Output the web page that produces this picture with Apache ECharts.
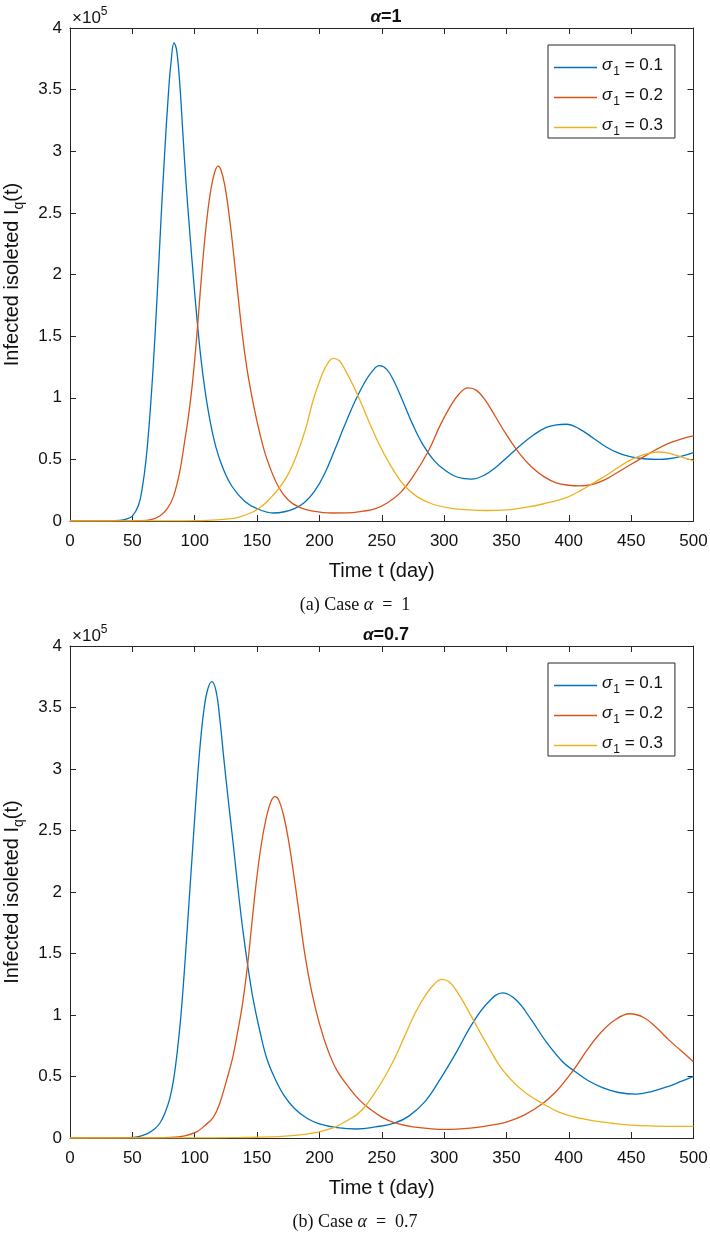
<!DOCTYPE html>
<html><head><meta charset="utf-8">
<script src="https://cdn.jsdelivr.net/npm/echarts@6/dist/echarts.min.js"></script>
<style>html,body{margin:0;padding:0;background:#fff}#c{width:710px;height:1233px}</style>
</head><body><div id="c"></div>
<script>
// ---------- DATA (values in units of 1e5) ----------
const xTickLabels = [0,50,100,150,200,250,300,350,400,450,500];
const yTickLabels = [0,0.5,1,1.5,2,2.5,3,3.5,4];
const seriesNames = ['σ1 = 0.1','σ1 = 0.2','σ1 = 0.3'];
const seriesColors = ['#0072BD','#D95319','#EDB120'];

// Panel (a): alpha = 1
const a_s01 = [[0,0],[20,0.0005],[30,0.001],[40,0.005],[45,0.015],[50,0.04],[55,0.13],[58,0.27],[61,0.5],[64,0.85],[67,1.3],[70,1.85],[73,2.45],[76,3.0],[79,3.48],[81,3.72],[83.4,3.88],[85.5,3.82],[88,3.55],[90.5,3.15],[93,2.75],[96,2.35],[99,1.97],[102,1.62],[105,1.32],[108,1.08],[112,0.83],[117,0.6],[123,0.42],[130,0.28],[140,0.16],[150,0.1],[163,0.065],[172,0.075],[180,0.1],[188,0.15],[196,0.24],[204,0.38],[212,0.57],[220,0.77],[228,0.96],[236,1.12],[242,1.21],[248,1.26],[254,1.23],[260,1.13],[267,0.97],[275,0.78],[283,0.62],[292,0.49],[301,0.41],[311,0.355],[322,0.34],[332,0.37],[342,0.44],[352,0.53],[362,0.62],[372,0.7],[382,0.76],[390,0.78],[398,0.785],[408,0.75],[420,0.67],[430,0.6],[440,0.55],[450,0.52],[460,0.505],[472,0.5],[480,0.505],[490,0.525],[500,0.555]];
const a_s02 = [[0,0],[40,0.0005],[55,0.003],[65,0.012],[72,0.04],[78,0.1],[83,0.2],[88,0.4],[92,0.65],[95,0.85],[98,1.1],[101,1.42],[104,1.8],[107,2.17],[110,2.47],[113,2.69],[116,2.83],[118.7,2.88],[121,2.85],[124,2.73],[127,2.53],[130,2.28],[134,1.9],[138,1.53],[142,1.23],[147,0.95],[152,0.72],[158,0.5],[167,0.28],[175,0.17],[184,0.11],[195,0.08],[210,0.065],[222,0.066],[235,0.08],[245,0.1],[255,0.15],[265,0.23],[275,0.36],[287,0.56],[297,0.78],[305,0.93],[312,1.03],[319,1.08],[326,1.06],[333,0.98],[341,0.85],[350,0.7],[361,0.54],[370,0.44],[380,0.36],[390,0.31],[400,0.29],[409,0.285],[420,0.3],[430,0.34],[440,0.4],[450,0.46],[460,0.52],[470,0.58],[480,0.63],[490,0.665],[500,0.69]];
const a_s03 = [[0,0],[80,0.001],[110,0.005],[125,0.015],[135,0.03],[147,0.075],[155,0.13],[162,0.2],[168,0.27],[175,0.38],[182,0.54],[189,0.75],[195,0.98],[200,1.13],[205,1.25],[211,1.32],[216,1.3],[222,1.2],[228,1.08],[232.5,0.98],[240,0.8],[248,0.62],[256,0.47],[267,0.3],[278,0.2],[290,0.14],[305,0.105],[320,0.09],[334,0.085],[350,0.09],[365,0.11],[380,0.14],[398,0.19],[410,0.25],[420,0.31],[433,0.39],[445,0.47],[455,0.52],[465,0.55],[472,0.56],[480,0.55],[490,0.52],[500,0.49]];

// Panel (b): alpha = 0.7
const b_s01 = [[0,0],[30,0.0005],[45,0.003],[55,0.012],[62,0.035],[68,0.075],[72,0.12],[76,0.2],[80,0.32],[83,0.47],[86,0.7],[89,1.0],[92,1.4],[95,1.85],[98,2.3],[101,2.75],[104,3.15],[107,3.45],[110,3.63],[113.6,3.71],[117,3.64],[120,3.42],[123.5,3.07],[127,2.74],[131,2.38],[135,2.0],[139,1.66],[143,1.37],[147,1.12],[152,0.88],[158,0.64],[165,0.47],[172,0.34],[180,0.24],[190,0.16],[200,0.115],[214,0.085],[230,0.073],[245,0.09],[260,0.12],[272,0.18],[285,0.3],[297,0.48],[310,0.7],[322,0.92],[335,1.1],[347,1.18],[358,1.12],[370,0.96],[382,0.78],[395,0.62],[405,0.54],[415,0.47],[427,0.41],[440,0.37],[454,0.357],[467,0.38],[480,0.42],[490,0.46],[500,0.5]];
const b_s02 = [[0,0],[60,0.001],[80,0.005],[92,0.018],[101.5,0.05],[108,0.1],[115,0.17],[120,0.28],[125.6,0.47],[130.6,0.66],[134.4,0.86],[138.2,1.08],[142,1.37],[145.8,1.74],[149.5,2.09],[153.3,2.38],[157.1,2.59],[160.9,2.73],[164.4,2.775],[167.3,2.75],[171.1,2.63],[174.9,2.44],[178.6,2.2],[183.7,1.83],[188.7,1.47],[193.8,1.19],[200,0.93],[207,0.71],[214,0.55],[223,0.42],[232,0.31],[240,0.24],[250,0.17],[260,0.125],[275,0.09],[290,0.075],[301,0.07],[321,0.08],[335,0.1],[350,0.13],[365,0.19],[379,0.28],[390,0.38],[397.5,0.47],[405,0.57],[415,0.72],[425,0.85],[437,0.96],[449,1.01],[460,0.98],[470,0.9],[480,0.8],[490,0.71],[500,0.62]];
const b_s03 = [[0,0],[100,0.001],[130,0.003],[150,0.006],[170,0.013],[185,0.025],[198,0.045],[207,0.07],[214,0.095],[222,0.14],[230,0.19],[237,0.26],[244,0.36],[252,0.49],[260,0.64],[268,0.82],[277,1.02],[285,1.16],[292,1.25],[298,1.29],[304,1.27],[311,1.18],[318,1.06],[325,0.93],[335,0.75],[345,0.58],[355,0.46],[365,0.37],[379,0.28],[392,0.21],[405,0.17],[420,0.14],[435,0.12],[450,0.105],[470,0.097],[485,0.094],[500,0.095]];

const panels = [
  {data:[a_s01,a_s02,a_s03], title:'{i|α}{b|=1}', caption:'{r|(a) Case }{i|α}{r|  =  1}', top:28, height:493},
  {data:[b_s01,b_s02,b_s03], title:'{i|α}{b|=0.7}', caption:'{r|(b) Case }{i|α}{r|  =  0.7}', top:646, height:492}
];

// ---------- CHART ----------
const SANS = "'Liberation Sans', Arial, Helvetica, sans-serif";
const SERIF = "'Liberation Serif', 'DejaVu Serif', serif";
const AX = '#262626';
const TXT = '#111';
const GL = 70, GW = 623.5;

const grid = [], xAxis = [], yAxis = [], series = [], legend = [], title = [], graphic = [];
panels.forEach((p, i) => {
  grid.push({left: GL, top: p.top, width: GW, height: p.height, containLabel: false, outerBoundsMode: 'none'});
  const xa = {type:'value', gridIndex:i, min:0, max:500, interval:50,
    axisLine:{show:true, onZero:false, lineStyle:{color:AX, width:1}},
    axisTick:{show:true, inside:true, length:6, lineStyle:{color:AX}},
    splitLine:{show:false}};
  xAxis.push(Object.assign({}, xa, {position:'bottom',
    axisLabel:{show:true, fontFamily:SANS, fontSize:17, color:TXT, margin:12,
      formatter: v => xTickLabels.includes(v) ? String(v) : ''},
    name:'Time t (day)', nameLocation:'middle', nameGap:40,
    nameTextStyle:{fontFamily:SANS, fontSize:20, color:TXT}}));
  xAxis.push(Object.assign({}, xa, {position:'top', axisLabel:{show:false}}));
  const ya = {type:'value', gridIndex:i, min:0, max:4, interval:0.5,
    axisLine:{show:true, onZero:false, lineStyle:{color:AX, width:1}},
    axisTick:{show:true, inside:true, length:6, lineStyle:{color:AX}},
    splitLine:{show:false}};
  yAxis.push(Object.assign({}, ya, {position:'left',
    axisLabel:{show:true, fontFamily:SANS, fontSize:17, color:TXT, margin:8,
      formatter: v => yTickLabels.includes(v) ? String(v) : ''},
    name:'{n|Infected isoleted I}{q|q}{n|(t)}', nameLocation:'middle', nameGap:44, nameRotate:90,
    nameTextStyle:{fontFamily:SANS, fontSize:20, color:TXT,
      rich:{n:{fontFamily:SANS, fontSize:20, color:TXT, lineHeight:24, verticalAlign:'top'},
            q:{fontFamily:SANS, fontSize:14, color:TXT, lineHeight:14, verticalAlign:'bottom'}}}}));
  yAxis.push(Object.assign({}, ya, {position:'right', axisLabel:{show:false}}));

  p.data.forEach((d, k) => {
    series.push({type:'line', name:seriesNames[k], xAxisIndex:2*i, yAxisIndex:2*i,
      data:d, symbol:'none', smooth:0.4, clip:true,
      lineStyle:{width:1.3, color:seriesColors[k]}, itemStyle:{color:seriesColors[k]}});
  });

  legend.push({data:seriesNames, orient:'vertical', left:548, top:p.top+17,
    padding:[12,12,0,6], itemWidth:43, itemHeight:1.4, itemGap:9, icon:'rect',
    backgroundColor:'#fff', borderColor:AX, borderWidth:1, borderRadius:0,
    selectedMode:false,
    formatter: n => '{s|σ}{sub|1}{t| = ' + n.split('= ')[1] + '}',
    textStyle:{fontFamily:SANS, fontSize:17, color:TXT,
      rich:{s:{fontFamily:SANS, fontSize:17, fontStyle:'italic', color:TXT, lineHeight:21, verticalAlign:'top', padding:[0,1,0,0]},
            sub:{fontFamily:SANS, fontSize:12, color:TXT, lineHeight:12, verticalAlign:'bottom'},
            t:{fontFamily:SANS, fontSize:17, color:TXT, lineHeight:21, verticalAlign:'top'}}}});

  title.push({text:p.title, left:381, textAlign:'center', top:p.top-25,
    textStyle:{rich:{i:{fontFamily:SANS, fontSize:17, fontStyle:'italic', color:TXT},
                     b:{fontFamily:SANS, fontSize:18, fontWeight:'bold', color:TXT}}}});

  graphic.push({type:'text', left:72, top:p.top-22, silent:true,
    style:{text:'{a|×10}{s|5}', rich:{
      a:{fontFamily:SANS, fontSize:17, fill:TXT, lineHeight:21, verticalAlign:'bottom'},
      s:{fontFamily:SANS, fontSize:12, fill:TXT, lineHeight:12, verticalAlign:'top'}}}});
  graphic.push({type:'text', left:'center', top:p.top+p.height+75, silent:true,
    style:{text:p.caption, rich:{
      r:{fontFamily:SERIF, fontSize:18, fill:TXT},
      i:{fontFamily:SERIF, fontSize:18, fontStyle:'italic', fill:TXT}}}});
});

const chart = echarts.init(document.getElementById('c'), null, {renderer:'canvas'});
chart.setOption({animation:false, backgroundColor:'#fff', grid, xAxis, yAxis, series, legend, title, graphic});
</script></body></html>
